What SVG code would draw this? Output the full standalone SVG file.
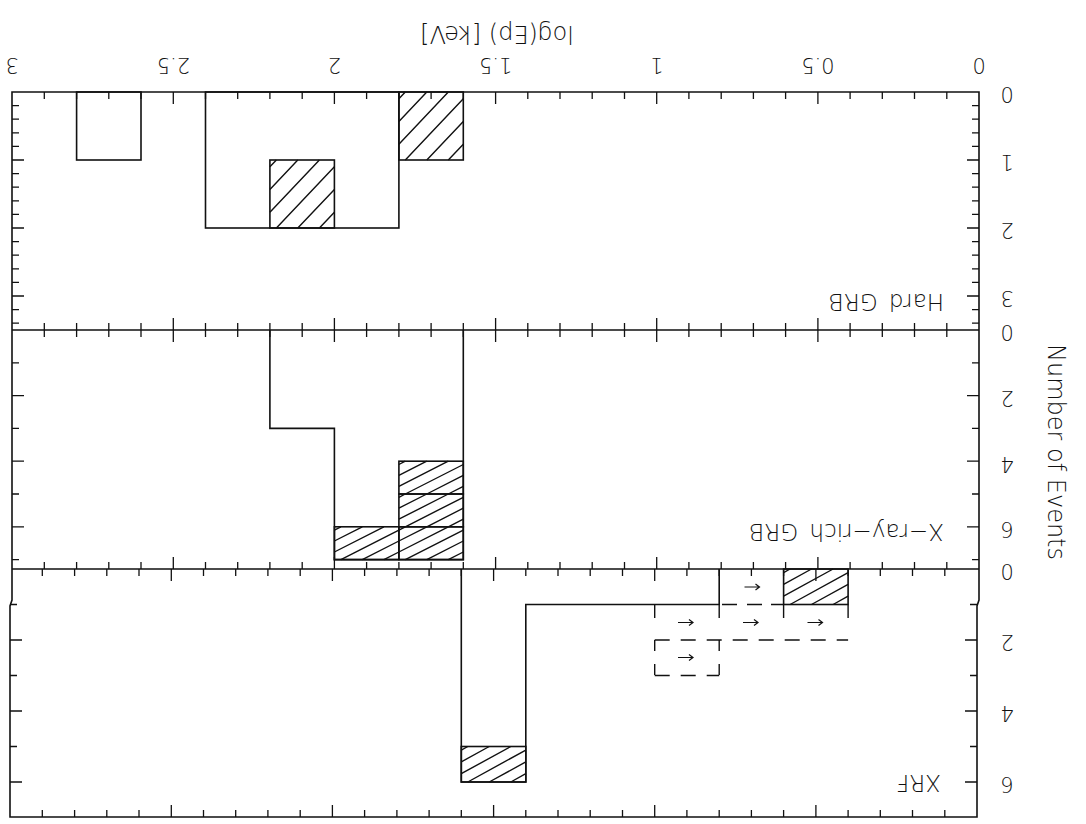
<svg xmlns="http://www.w3.org/2000/svg" width="1086" height="824" viewBox="0 0 1086 824">
<style>
.ln{fill:none;stroke:#111;stroke-width:1.6}
.tkl{fill:none;stroke:#111;stroke-width:1.3}
.ht{fill:none;stroke:#111;stroke-width:1.4}
.ds{fill:none;stroke:#111;stroke-width:1.4}
text{font-family:"DejaVu Sans","Liberation Sans",sans-serif;font-weight:200;fill:#111}
.tk{font-size:21px;text-anchor:middle}
.ttl{font-size:24px;text-anchor:middle}
.pl{font-size:23px;text-anchor:start;word-spacing:4px}
</style>
<defs>
<path id="arr" d="M-7.5,0H7.5M3.5,-3L7.5,0L3.5,3" fill="none" stroke="#111" stroke-width="1.2"/>
</defs>
<rect width="1086" height="824" fill="#fff"/>

<g id="frame">
<path class="ln" d="M12,92H979V600L977,606V817H10V606L12,600Z"/>
<path class="ln" d="M12,330H979M12,569H979"/>
</g>

<g id="ticks">
<path class="tkl" d="M946.8,92v7M914.5,92v7M882.3,92v7M850.1,92v7M817.9,92v12M785.6,92v7M753.4,92v7M721.2,92v7M688.9,92v7M656.7,92v12M624.5,92v7M592.2,92v7M560,92v7M527.8,92v7M495.6,92v12M463.3,92v7M431.1,92v7M398.9,92v7M366.6,92v7M334.4,92v12M302.2,92v7M269.9,92v7M237.7,92v7M205.5,92v7M173.3,92v12M141,92v7M108.8,92v7M76.6,92v7M44.3,92v7"/>
<path class="tkl" d="M946.8,323v14M914.5,323v14M882.3,323v14M850.1,323v14M817.9,318v24M785.6,323v14M753.4,323v14M721.2,323v14M688.9,323v14M656.7,318v24M624.5,323v14M592.2,323v14M560,323v14M527.8,323v14M495.6,318v24M463.3,323v14M431.1,323v14M398.9,323v14M366.6,323v14M334.4,318v24M302.2,323v14M269.9,323v14M237.7,323v14M205.5,323v14M173.3,318v24M141,323v14M108.8,323v14M76.6,323v14M44.3,323v14"/>
<path class="tkl" d="M946.8,569v-7M914.5,569v-7M882.3,569v-7M850.1,569v-7M817.9,569v-12M785.6,569v-7M753.4,569v-7M721.2,569v-7M688.9,569v-7M656.7,569v-12M624.5,569v-7M592.2,569v-7M560,569v-7M527.8,569v-7M495.6,569v-12M463.3,569v-7M431.1,569v-7M398.9,569v-7M366.6,569v-7M334.4,569v-12M302.2,569v-7M269.9,569v-7M237.7,569v-7M205.5,569v-7M173.3,569v-12M141,569v-7M108.8,569v-7M76.6,569v-7M44.3,569v-7"/>
<path class="tkl" d="M944.8,569v7M912.5,569v7M880.3,569v7M848.1,569v7M815.9,569v12M783.6,569v7M751.4,569v7M719.2,569v7M686.9,569v7M654.7,569v12M622.5,569v7M590.2,569v7M558,569v7M525.8,569v7M493.6,569v12M461.3,569v7M429.1,569v7M396.9,569v7M364.6,569v7M332.4,569v12M300.2,569v7M267.9,569v7M235.7,569v7M203.5,569v7M171.3,569v12M139,569v7M106.8,569v7M74.6,569v7M42.3,569v7"/>
<path class="tkl" d="M944.8,817v-7M912.5,817v-7M880.3,817v-7M848.1,817v-7M815.9,817v-12M783.6,817v-7M751.4,817v-7M719.2,817v-7M686.9,817v-7M654.7,817v-12M622.5,817v-7M590.2,817v-7M558,817v-7M525.8,817v-7M493.6,817v-12M461.3,817v-7M429.1,817v-7M396.9,817v-7M364.6,817v-7M332.4,817v-12M300.2,817v-7M267.9,817v-7M235.7,817v-7M203.5,817v-7M171.3,817v-12M139,817v-7M106.8,817v-7M74.6,817v-7M42.3,817v-7"/>
<path class="tkl" d="M979,105.6h-7M979,119.2h-7M979,132.8h-7M979,146.4h-7M979,160h-12M979,173.6h-7M979,187.2h-7M979,200.8h-7M979,214.4h-7M979,228h-12M979,241.6h-7M979,255.2h-7M979,268.8h-7M979,282.4h-7M979,296h-12M979,309.6h-7M979,323.2h-7"/>
<path class="tkl" d="M12,105.6h7M12,119.2h7M12,132.8h7M12,146.4h7M12,160h12M12,173.6h7M12,187.2h7M12,200.8h7M12,214.4h7M12,228h12M12,241.6h7M12,255.2h7M12,268.8h7M12,282.4h7M12,296h12M12,309.6h7M12,323.2h7"/>
<path class="tkl" d="M979,362.8h-7M979,395.6h-12M979,428.4h-7M979,461.2h-12M979,494h-7M979,526.8h-12M979,559.6h-7M12,362.8h7M12,395.6h12M12,428.4h7M12,461.2h12M12,494h7M12,526.8h12M12,559.6h7"/>
<path class="tkl" d="M977,604.5h-7M977,640h-12M977,675.5h-7M977,711h-12M977,746.5h-7M977,782h-12M10,604.5h7M10,640h12M10,675.5h7M10,711h12M10,746.5h7M10,782h12"/>
</g>

<g id="axis-labels">
<text class="ttl" x="497" y="40" transform="rotate(180 497 33)">log(Ep) [keV]</text>
<text class="tk" x="979" y="73.7" transform="rotate(180 979 66)">0</text>
<text class="tk" x="817.9" y="73.7" transform="rotate(180 817.9 66)">0.5</text>
<text class="tk" x="656.7" y="73.7" transform="rotate(180 656.7 66)">1</text>
<text class="tk" x="495.6" y="73.7" transform="rotate(180 495.6 66)">1.5</text>
<text class="tk" x="334.4" y="73.7" transform="rotate(180 334.4 66)">2</text>
<text class="tk" x="173.3" y="73.7" transform="rotate(180 173.3 66)">2.5</text>
<text class="tk" x="12.1" y="73.7" transform="rotate(180 12.1 66)">3</text>
<text class="ttl" x="1057" y="461" transform="rotate(90 1057 452)">Number of Events</text>
<text class="tk" x="1007" y="102.7" transform="rotate(180 1007 95)">0</text>
<text class="tk" x="1007" y="170.7" transform="rotate(180 1007 163)">1</text>
<text class="tk" x="1007" y="238.7" transform="rotate(180 1007 231)">2</text>
<text class="tk" x="1007" y="306.7" transform="rotate(180 1007 299)">3</text>
<text class="tk" x="1007" y="340.7" transform="rotate(180 1007 333)">0</text>
<text class="tk" x="1007" y="406.3" transform="rotate(180 1007 398.6)">2</text>
<text class="tk" x="1007" y="471.9" transform="rotate(180 1007 464.2)">4</text>
<text class="tk" x="1007" y="537.5" transform="rotate(180 1007 529.8)">6</text>
<text class="tk" x="1007" y="579.7" transform="rotate(180 1007 572)">0</text>
<text class="tk" x="1007" y="650.7" transform="rotate(180 1007 643)">2</text>
<text class="tk" x="1007" y="721.7" transform="rotate(180 1007 714)">4</text>
<text class="tk" x="1007" y="792.7" transform="rotate(180 1007 785)">6</text>
</g>

<g id="panel-hard">
<rect class="ln" x="76.6" y="92" width="64.4" height="68"/>
<rect class="ln" x="205.5" y="92" width="193.4" height="136"/>
<rect class="ln" x="269.9" y="160" width="64.5" height="68"/>
<rect class="ln" x="398.9" y="92" width="64.4" height="68"/>
<path class="ht" d="M398.9,98.8L405.3,92M398.9,121.4L426.8,92M398.9,144.2L448.3,92M405.3,160L463.3,98.8M426.8,160L463.3,121.4M448.3,160L463.3,144.2"/>
<path class="ht" d="M269.9,166.8L276.4,160M269.9,189.4L297.8,160M269.9,212.2L319.4,160M276.4,228L334.4,166.8M297.8,228L334.4,189.4M319.4,228L334.4,212.2"/>
<text class="pl" x="944" y="310.4" transform="rotate(180 944 302)">Hard GRB</text>
</g>

<g id="panel-xrich">
<path class="ln" d="M269.9,330V428.4H334.4V559.6H463.3V330"/>
<rect class="ln" x="398.9" y="461.2" width="64.4" height="32.8"/>
<rect class="ln" x="398.9" y="494" width="64.4" height="32.8"/>
<rect class="ln" x="398.9" y="526.8" width="64.4" height="32.8"/>
<rect class="ln" x="334.4" y="526.8" width="64.5" height="32.8"/>
<path class="ht" d="M398.9,464.5L405.3,461.2M398.9,475.4L426.8,461.2M398.9,486.4L448.3,461.2M405.3,494L463.3,464.5M426.8,494L463.3,475.4M448.3,494L463.3,486.4"/>
<path class="ht" d="M398.9,497.3L405.3,494M398.9,508.2L426.8,494M398.9,519.2L448.3,494M405.3,526.8L463.3,497.3M426.8,526.8L463.3,508.2M448.3,526.8L463.3,519.2"/>
<path class="ht" d="M398.9,530.1L405.3,526.8M398.9,541L426.8,526.8M398.9,552L448.3,526.8M405.3,559.6L463.3,530.1M426.8,559.6L463.3,541M448.3,559.6L463.3,552"/>
<path class="ht" d="M334.4,530.1L340.9,526.8M334.4,541L362.3,526.8M334.4,552L383.9,526.8M340.9,559.6L398.9,530.1M362.3,559.6L398.9,541M383.9,559.6L398.9,552"/>
<text class="pl" x="944" y="540.4" transform="rotate(180 944 532)">X−ray−rich GRB</text>
</g>

<g id="panel-xrf">
<path class="ln" d="M719.2,569V604.5H525.8V782H461.3V569"/>
<rect class="ln" x="461.3" y="746.5" width="64.5" height="35.5"/>
<rect class="ln" x="783.6" y="569" width="64.5" height="35.5"/>
<path class="ht" d="M461.3,750.05L467.8,746.5M461.3,761.9L489.2,746.5M461.3,773.7L510.8,746.5M467.8,782L525.8,750.05M489.2,782L525.8,761.9M510.8,782L525.8,773.7"/>
<path class="ht" d="M783.6,572.55L790.1,569M783.6,584.4L811.5,569M783.6,596.2L833.1,569M790.1,604.5L848.1,572.55M811.5,604.5L848.1,584.4M833.1,604.5L848.1,596.2"/>
<g id="upper-limits">
<path class="ds" d="M654.7,604.5V618M719.2,604.5V618M783.6,604.5V618M848.1,604.5V618"/>
<path class="ds" d="M722,604.5H737M747,604.5H762M771,604.5H783.6"/>
<path class="ds" d="M654.7,640H848.1" stroke-dasharray="15 11"/>
<path class="ds" d="M654.7,640V675.5M719.2,640V675.5" stroke-dasharray="11 13"/>
<path class="ds" d="M654.7,675.5H719.2" stroke-dasharray="15 11"/>
<use href="#arr" x="752" y="587"/>
<use href="#arr" x="685.5" y="622.5"/>
<use href="#arr" x="750.5" y="622.5"/>
<use href="#arr" x="815" y="622.5"/>
<use href="#arr" x="685.5" y="657.5"/>
</g>
<text class="pl" x="941" y="791.4" transform="rotate(180 941 783)">XRF</text>
</g>
</svg>
